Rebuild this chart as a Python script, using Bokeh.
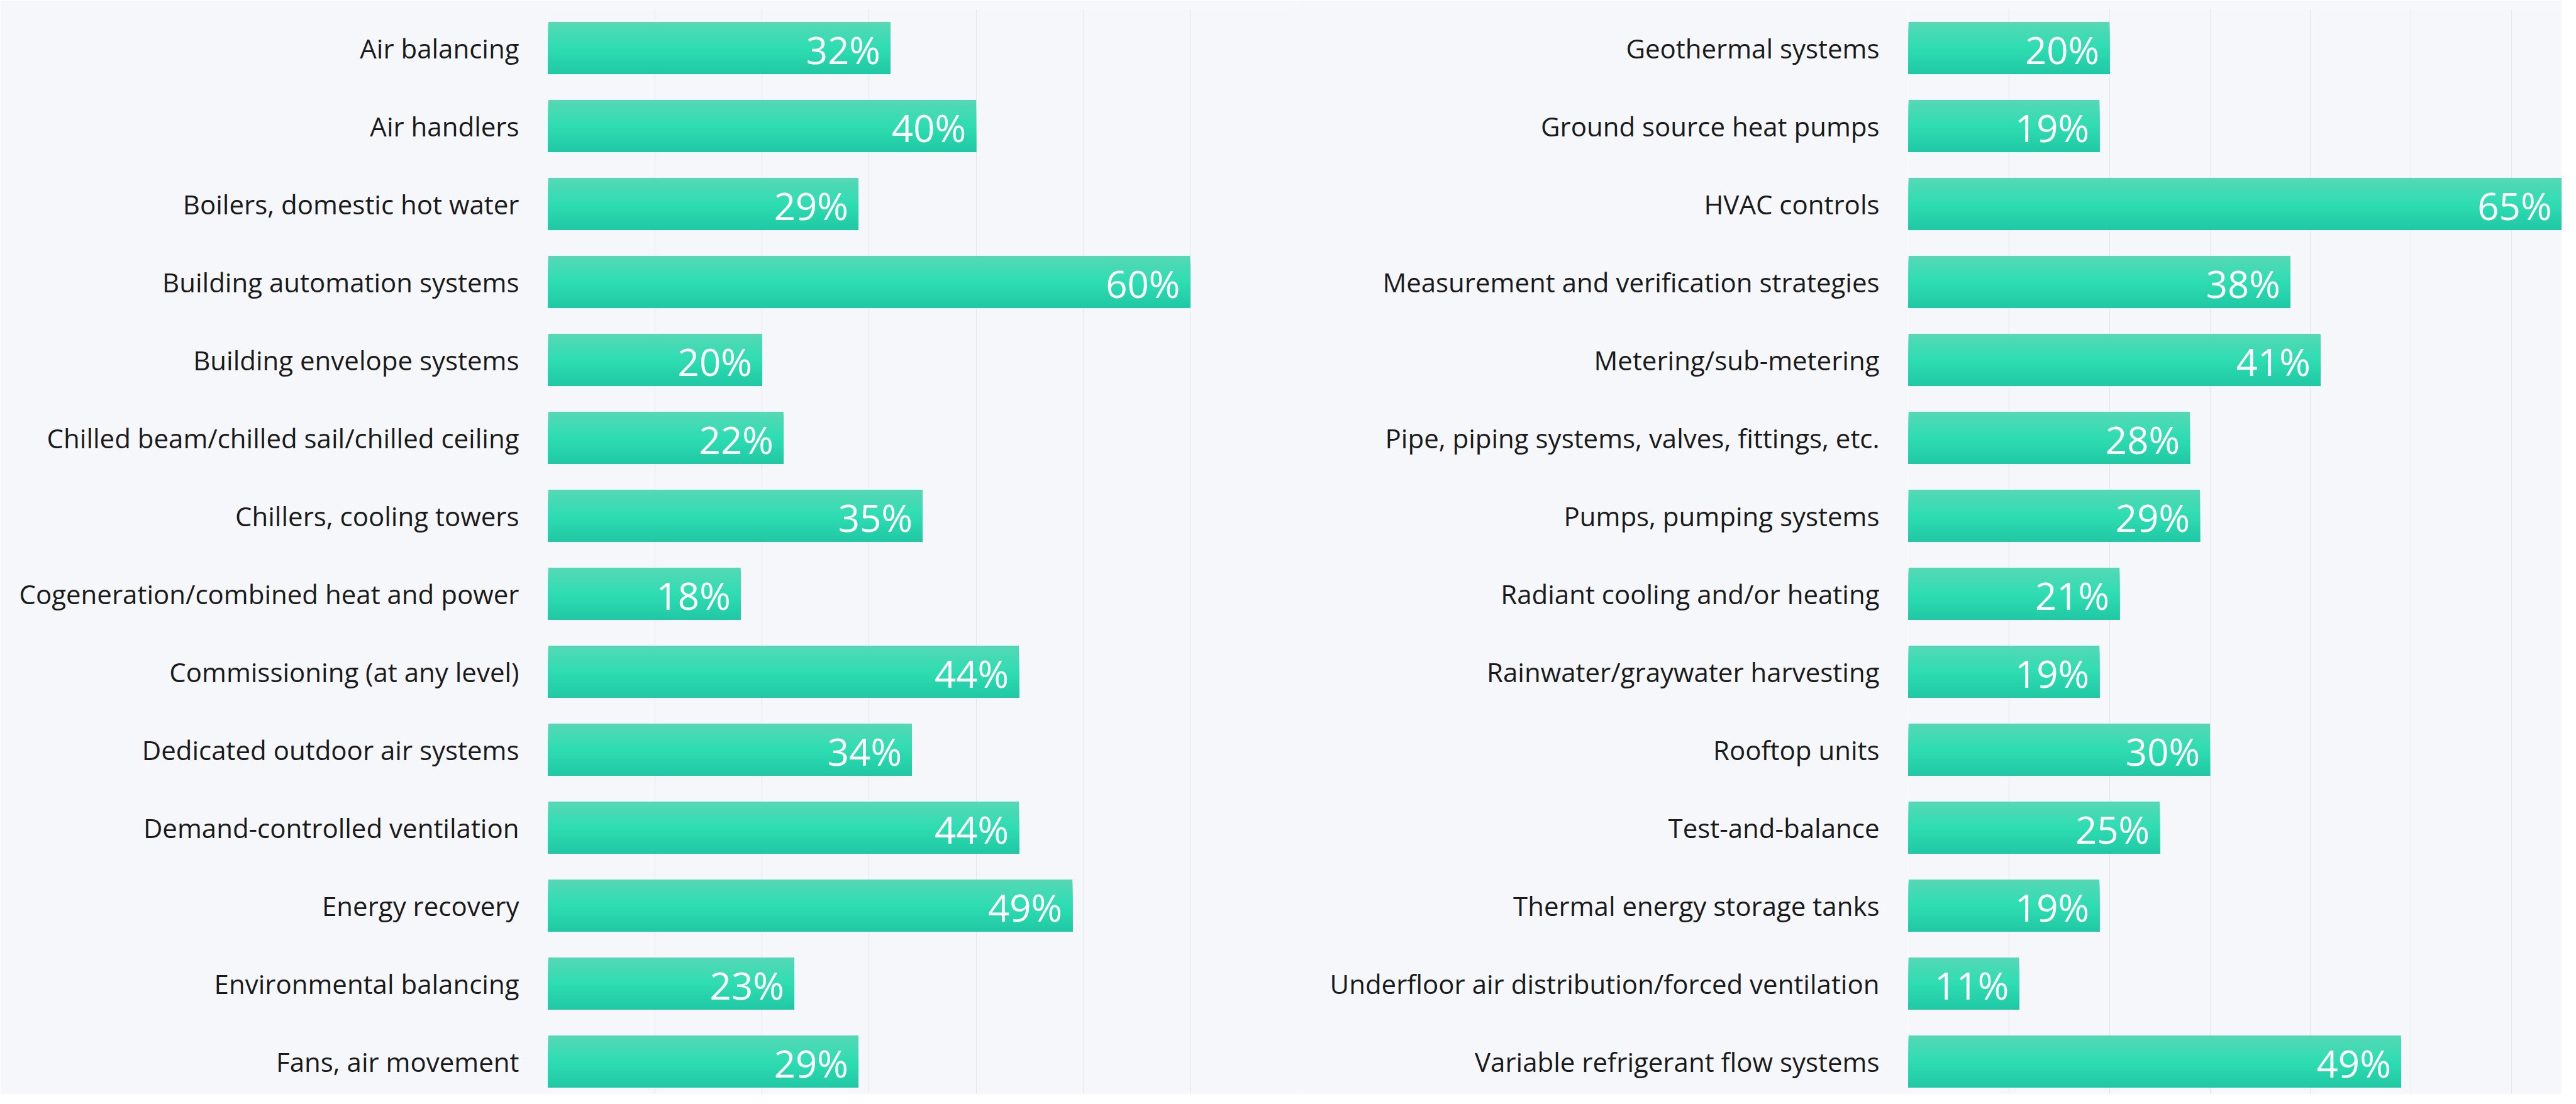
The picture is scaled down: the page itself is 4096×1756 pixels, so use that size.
from bokeh.plotting import figure
from bokeh.layouts import row
from bokeh.models import Range1d, FixedTicker, ColumnDataSource
from bokeh.core.properties import value
from bokeh.embed import file_html
from bokeh.resources import INLINE

# ---------------- data ----------------
left_categories = [
    "Air balancing", "Air handlers", "Boilers, domestic hot water",
    "Building automation systems", "Building envelope systems",
    "Chilled beam/chilled sail/chilled ceiling", "Chillers, cooling towers",
    "Cogeneration/combined heat and power", "Commissioning (at any level)",
    "Dedicated outdoor air systems", "Demand-controlled ventilation",
    "Energy recovery", "Environmental balancing", "Fans, air movement",
]
left_values = [32, 40, 29, 60, 20, 22, 35, 18, 44, 34, 44, 49, 23, 29]

right_categories = [
    "Geothermal systems", "Ground source heat pumps", "HVAC controls",
    "Measurement and verification strategies", "Metering/sub-metering",
    "Pipe, piping systems, valves, fittings, etc.", "Pumps, pumping systems",
    "Radiant cooling and/or heating", "Rainwater/graywater harvesting",
    "Rooftop units", "Test-and-balance", "Thermal energy storage tanks",
    "Underfloor air distribution/forced ventilation",
    "Variable refrigerant flow systems",
]
right_values = [20, 19, 65, 38, 41, 28, 29, 21, 19, 30, 25, 19, 11, 49]

left_ticks = [0, 10, 20, 30, 40, 50, 60, 70]
right_ticks = [0, 10, 20, 30, 40, 50, 60]

# ---------------- style ----------------
S = 0.838
BG = "#F5F7FB"
GRID = "#E3E6EC"
TEXT = "#1A1A1A"
FONT = "Open Sans"
BAR_FRAC = 0.67
N_SLICES = 24
TOP_C = (86, 216, 182)
MID_C = (46, 221, 178)
BOT_C = (31, 200, 164)
H = 1740


def grad_color(f):
    if f < 0.5:
        a, b, t = TOP_C, MID_C, f / 0.5
    else:
        a, b, t = MID_C, BOT_C, (f - 0.5) / 0.5
    c = [round(a[j] + (b[j] - a[j]) * t) for j in range(3)]
    return "#%02x%02x%02x" % tuple(c)


def make_panel(cats, vals, xmax, ticks, width, left_border):
    n = len(cats)
    p = figure(
        width=width, height=H, output_backend="svg", toolbar_location=None,
        x_range=Range1d(0, xmax), y_range=Range1d(n - 0.58, -0.5),
        min_border_left=left_border, min_border_right=0,
        min_border_top=round(17 * S), min_border_bottom=0,
    )
    p.background_fill_color = BG
    p.border_fill_color = BG
    p.outline_line_color = None
    p.xaxis.visible = False
    p.xgrid.ticker = FixedTicker(ticks=ticks)
    p.xgrid.grid_line_color = GRID
    p.xgrid.grid_line_width = 1
    p.ygrid.grid_line_color = None

    yax = p.yaxis[0]
    yax.ticker = FixedTicker(ticks=list(range(n)))
    yax.major_label_overrides = {i: c for i, c in enumerate(cats)}
    yax.axis_line_color = None
    yax.major_tick_line_color = None
    yax.minor_tick_line_color = None
    yax.major_tick_out = 0
    yax.major_tick_in = 0
    yax.major_label_standoff = round(55 * S)
    yax.major_label_text_font = FONT
    yax.major_label_text_font_size = "42px"
    yax.major_label_text_color = TEXT

    # gradient bars: overlapping slices drawn top to bottom
    half = BAR_FRAC / 2
    sh = BAR_FRAC / N_SLICES
    lefts, rights, tops, bottoms, colors = [], [], [], [], []
    for i in range(N_SLICES):
        col = grad_color((i + 0.5) / N_SLICES)
        for k, v in enumerate(vals):
            lefts.append(0)
            rights.append(v)
            tops.append(k - half + i * sh)
            bottoms.append(k + half)
            colors.append(col)
    src = ColumnDataSource(dict(left=lefts, right=rights, top=tops,
                                bottom=bottoms, color=colors))
    p.quad(left="left", right="right", top="top", bottom="bottom",
           fill_color="color", line_color=None, source=src)

    tsrc = ColumnDataSource(dict(x=vals, y=list(range(n)),
                                 t=[f"{v}%" for v in vals]))
    p.text(x="x", y="y", text="t", source=tsrc, text_align="right",
           text_baseline="middle", x_offset=-round(19 * S), y_offset=3,
           text_color="white", text_font=value(FONT), text_font_size="60px")
    return p


total_w = round(4860 * S)
left_w = round(2461 * S)
right_w = total_w - left_w

p1 = make_panel(left_categories, left_values, 70, left_ticks,
                left_w, round(1039 * S))
p2 = make_panel(right_categories, right_values, 65, right_ticks,
                right_w, round(3621 * S) - left_w)

layout = row(p1, p2)
open("out.html", "w").write(file_html(layout, INLINE))
